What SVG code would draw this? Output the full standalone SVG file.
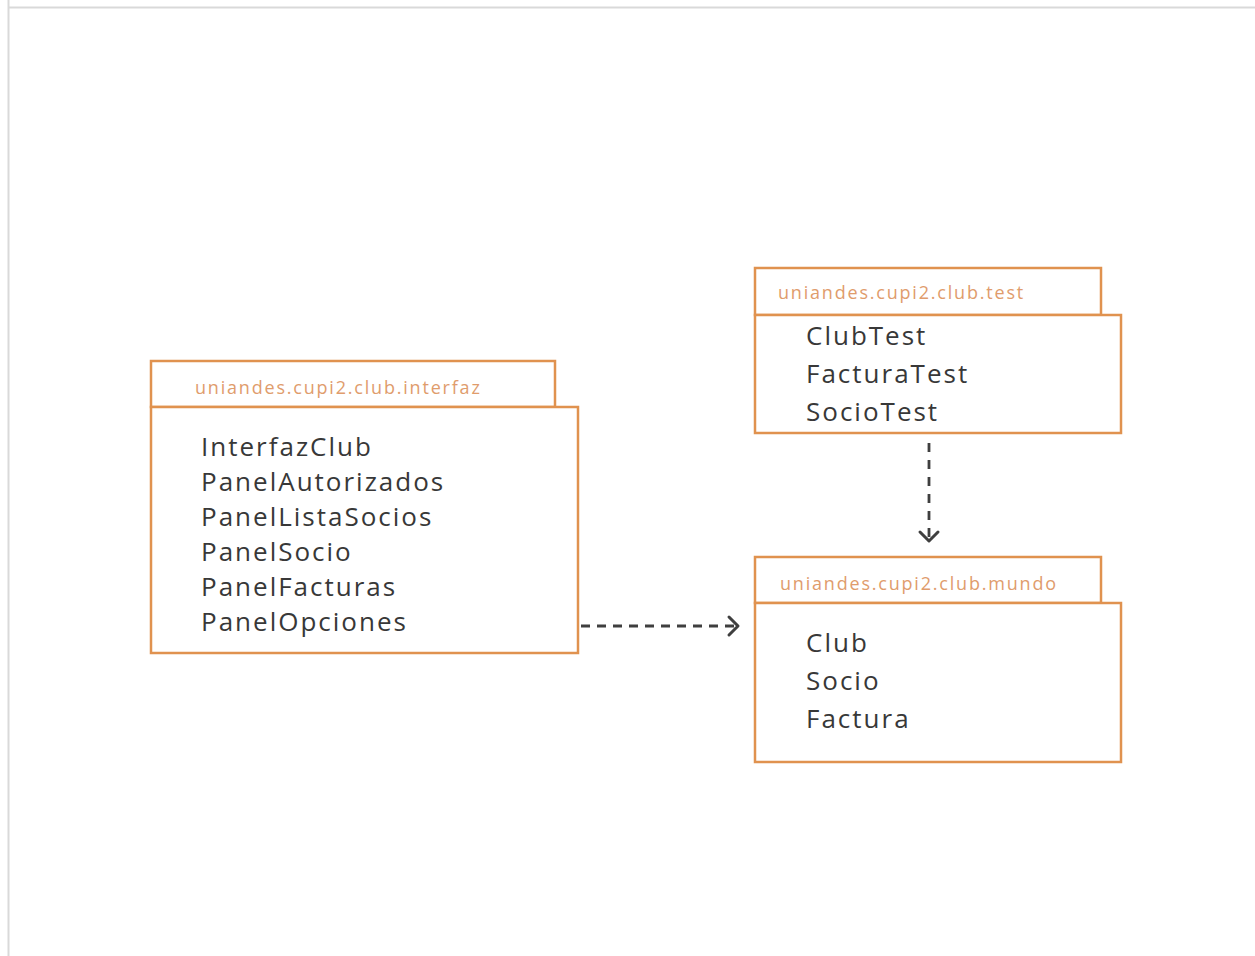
<svg xmlns="http://www.w3.org/2000/svg" width="1255" height="956" viewBox="0 0 1255 956">
<defs>
<style>
.frame{fill:none;stroke:#d9d9d9;stroke-width:2}
.box{fill:#fff;stroke:#e0924f;stroke-width:2.5}
.title{font-family:"Open Sans","Noto Sans",sans-serif;font-size:18px;fill:#e09c6c;letter-spacing:1.8px}
.item{font-family:"Open Sans","Noto Sans",sans-serif;font-size:26px;fill:#383838;letter-spacing:2px}
.dash{fill:none;stroke:#3f3f3f;stroke-width:2.8;stroke-dasharray:9 7}
.head{fill:none;stroke:#3f3f3f;stroke-width:3;stroke-linecap:round;stroke-linejoin:round}
</style>
</defs>
<rect width="1255" height="956" fill="#fff"/>
<path class="frame" d="M8.5 0V956M8 7.5H1255"/>
<g id="interfaz">
<rect class="box" x="151" y="361" width="404" height="46"/>
<rect class="box" x="151" y="407" width="427" height="246"/>
<text class="title" x="195" y="394">uniandes.cupi2.club.interfaz</text>
<text class="item" x="201" y="456">InterfazClub</text>
<text class="item" x="201" y="491">PanelAutorizados</text>
<text class="item" x="201" y="526">PanelListaSocios</text>
<text class="item" x="201" y="561">PanelSocio</text>
<text class="item" x="201" y="596">PanelFacturas</text>
<text class="item" x="201" y="631">PanelOpciones</text>
</g>
<g id="test">
<rect class="box" x="755" y="268" width="346" height="47"/>
<rect class="box" x="755" y="315" width="366" height="118"/>
<text class="title" x="778" y="299">uniandes.cupi2.club.test</text>
<text class="item" x="806" y="345">ClubTest</text>
<text class="item" x="806" y="383">FacturaTest</text>
<text class="item" x="806" y="421">SocioTest</text>
</g>
<g id="mundo">
<rect class="box" x="755" y="557" width="346" height="46"/>
<rect class="box" x="755" y="603" width="366" height="159"/>
<text class="title" x="780" y="590">uniandes.cupi2.club.mundo</text>
<text class="item" x="806" y="652">Club</text>
<text class="item" x="806" y="690">Socio</text>
<text class="item" x="806" y="728">Factura</text>
</g>
<g id="connectors">
<path class="dash" d="M581 626H735"/>
<path class="head" d="M729 617L738 626L729 635"/>
<path class="dash" d="M929 443V537" style="stroke-dasharray:9 8"/>
<path class="head" d="M920 532L929 541L938 532"/>
</g>
</svg>
